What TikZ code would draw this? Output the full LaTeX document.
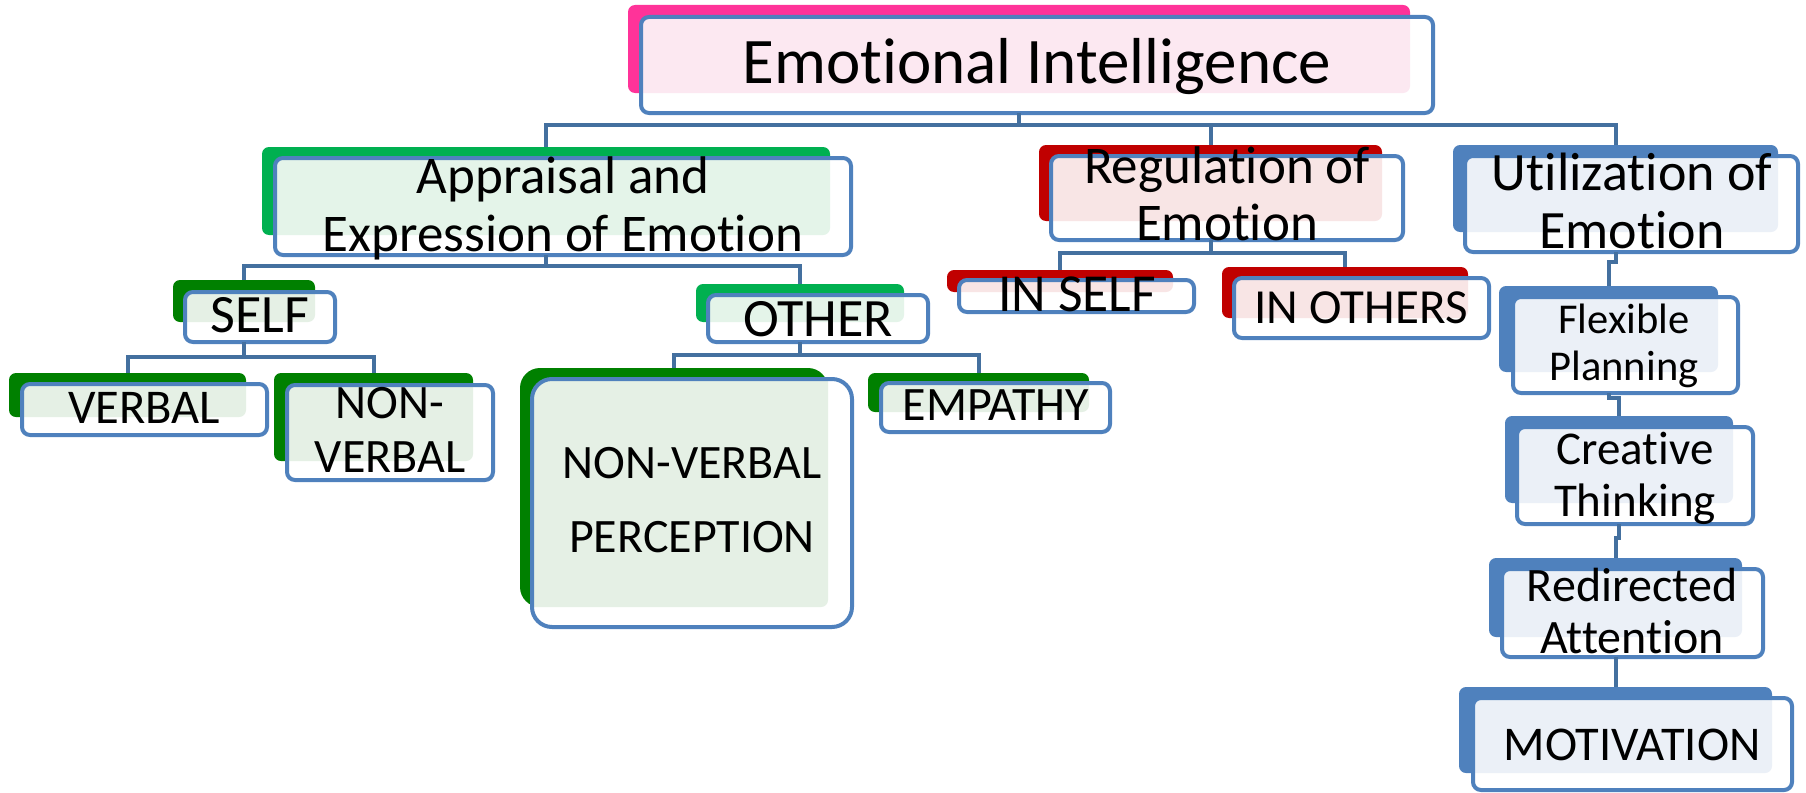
\documentclass[tikz,border=0pt]{standalone}
\usepackage{fontspec}
\setmainfont{Carlito}[Ligatures=NoCommon]
\usetikzlibrary{fit}
\definecolor{pinkD}{HTML}{FF3399}
\definecolor{pinkT}{HTML}{FCE8F1}
\definecolor{grnA}{HTML}{00B050}
\definecolor{grnAT}{HTML}{E4F4E9}
\definecolor{grnB}{HTML}{008000}
\definecolor{grnBT}{HTML}{E5F0E5}
\definecolor{redD}{HTML}{C00000}
\definecolor{redT}{HTML}{F8E5E5}
\definecolor{bluD}{HTML}{4F81BD}
\definecolor{bluT}{HTML}{EBF0F7}
\definecolor{edgeC}{HTML}{4F81BD}
\definecolor{connC}{HTML}{44709F}
\tikzset{
  darkbox/.style={inner sep=0pt, outer sep=0pt, rounded corners=7pt, draw=none},
  bluebox/.style 2 args={inner sep=0pt, outer sep=0pt, rounded corners=8pt, draw=edgeC,
    line width=4pt, fill=white,
    path picture={\fill[#1, rounded corners=7pt] ([shift={(-10,-10)}]path picture bounding box.north west) rectangle (#2.south east);}},
  lbl/.style={inner sep=0pt, align=center, text=black},
  link/.style={draw=connC, line width=4pt},
}
\begin{document}
\begin{tikzpicture}[x=1pt,y=-1pt]
\useasboundingbox (0,0) rectangle (1806,792);
% ---------- dark back boxes ----------
\node[darkbox, fill=pinkD, fit={(628,5) (1410,93)}] (eiD) {};
\node[darkbox, fill=grnA, fit={(262,147) (830,235)}] (apD) {};
\node[darkbox, fill=redD, fit={(1039,145) (1382,221)}] (reD) {};
\node[darkbox, fill=bluD, fit={(1453,145) (1778,232)}] (utD) {};
\node[darkbox, fill=grnB, fit={(173,280) (315,322)}] (seD) {};
\node[darkbox, fill=grnA, fit={(696,284) (904,322)}] (otD) {};
\node[darkbox, fill=grnB, fit={(9,373) (246,417)}] (vbD) {};
\node[darkbox, fill=grnB, fit={(274,373) (473,461)}] (nvD) {};
\node[darkbox, fill=grnB, rounded corners=20pt, fit={(520,368) (828,607)}] (npD) {};
\node[darkbox, fill=grnB, fit={(868,373) (1089,412)}] (emD) {};
\node[darkbox, fill=redD, fit={(947,270) (1173,292)}] (isD) {};
\node[darkbox, fill=redD, fit={(1222,267) (1468,318)}] (ioD) {};
\node[darkbox, fill=bluD, fit={(1499,286) (1718,372)}] (flD) {};
\node[darkbox, fill=bluD, fit={(1505,416) (1733,503)}] (crD) {};
\node[darkbox, fill=bluD, fit={(1489,558) (1742,637)}] (rdD) {};
\node[darkbox, fill=bluD, fit={(1459,687) (1772,773)}] (moD) {};
% ---------- blue outlined boxes ----------
\node[bluebox={pinkT}{eiD}, fit={(641,17) (1433,113)}] (ei) {};
\node[bluebox={grnAT}{apD}, fit={(275,158) (851,255)}] (ap) {};
\node[bluebox={redT}{reD}, fit={(1051,156) (1403,240)}] (re) {};
\node[bluebox={bluT}{utD}, fit={(1465,156) (1798,252)}] (ut) {};
\node[bluebox={grnBT}{seD}, fit={(185,292) (335,342)}] (se) {};
\node[bluebox={grnAT}{otD}, fit={(708,295) (928,342)}] (ot) {};
\node[bluebox={grnBT}{vbD}, fit={(22,384) (267,435)}] (vb) {};
\node[bluebox={grnBT}{nvD}, fit={(287,385) (493,480)}] (nv) {};
\node[bluebox={grnBT}{npD}, rounded corners=20pt, fit={(532,379) (852,627)}] (np) {};
\node[bluebox={grnBT}{emD}, fit={(881,383) (1110,432)}] (em) {};
\node[bluebox={redT}{isD}, fit={(959,280) (1194,312)}] (is) {};
\node[bluebox={redT}{ioD}, fit={(1234,278) (1489,338)}] (io) {};
\node[bluebox={bluT}{flD}, fit={(1513,297) (1738,393)}] (fl) {};
\node[bluebox={bluT}{crD}, fit={(1517,427) (1753,524)}] (cr) {};
\node[bluebox={bluT}{rdD}, fit={(1502,569) (1763,657)}] (rd) {};
\node[bluebox={bluT}{moD}, fit={(1473,698) (1792,790)}] (mo) {};
% ---------- labels ----------
\node[lbl, font=\fontsize{65}{76}\selectfont] (eiL) at (1037,68) {\strut Emotional Intelligence};
\node[lbl, font=\fontsize{53}{58}\selectfont] (apL) at (563,211) {\strut Appraisal and\\\strut Expression of Emotion};
\node[lbl, font=\fontsize{53}{57}\selectfont] (reL) at (1227,201) {\strut Regulation of\\\strut Emotion};
\node[lbl, font=\fontsize{54}{58}\selectfont] (utL) at (1632,208) {\strut Utilization of\\\strut Emotion};
\node[lbl, font=\fontsize{54}{65}\selectfont] (seL) at (260,319) {\strut SELF};
\node[lbl, font=\fontsize{54}{65}\selectfont] (otL) at (818,323) {\strut OTHER};
\node[lbl, font=\fontsize{48.5}{53}\selectfont] (vbL) at (144,413) {\strut VERBAL};
\node[lbl, font=\fontsize{48}{54}\selectfont] (nvL) at (390,435) {\strut NON-\\\strut VERBAL};
\node[lbl, font=\fontsize{48}{74}\selectfont] (npL) at (692,501) {\strut NON-VERBAL\\\strut PERCEPTION};
\node[lbl, font=\fontsize{48}{53}\selectfont] (emL) at (996,410) {\strut EMPATHY};
\node[lbl, font=\fontsize{53.5}{60}\selectfont] (isL) at (1077,299) {\strut IN SELF};
\node[lbl, font=\fontsize{49}{57}\selectfont] (ioL) at (1361,312) {\strut IN OTHERS};
\node[lbl, font=\fontsize{42.5}{47}\selectfont] (flL) at (1624,348) {\strut Flexible\\\strut Planning};
\node[lbl, font=\fontsize{47}{52}\selectfont] (crL) at (1635,480) {\strut Creative\\\strut Thinking};
\node[lbl, font=\fontsize{48}{52}\selectfont] (rdL) at (1632,617) {\strut Redirected\\\strut Attention};
\node[lbl, font=\fontsize{48.5}{53}\selectfont] (moL) at (1632,750) {\strut MOTIVATION};
% ---------- connectors ----------
\draw[link] (eiD.south |- ei.south) -- ++(0,12) coordinate (j1);
\draw[link] (j1) -| (apD.north);
\draw[link] (j1) -| (reD.north);
\draw[link] (j1) -| (utD.north);
\draw[link] (apD.south |- ap.south) -- ++(0,11) coordinate (j2);
\draw[link] (j2) -| (seD.north);
\draw[link] (j2) -| (otD.north);
\draw[link] (seD.south |- se.south) -- ++(0,15) coordinate (j3);
\draw[link] (j3) -| (vbD.north);
\draw[link] (j3) -| (nvD.north);
\draw[link] (otD.south |- ot.south) -- ++(0,13) coordinate (j4);
\draw[link] (j4) -| (npD.north);
\draw[link] (j4) -| (emD.north);
\draw[link] (reD.south |- re.south) -- ++(0,13) coordinate (j5);
\draw[link] (j5) -| (isD.north);
\draw[link] (j5) -| (ioD.north);
\draw[link] (utD.south |- ut.south) -- ++(0,10) -| (flD.north);
\draw[link] (flD.south |- fl.south) -- ++(0,5) -| (crD.north);
\draw[link] (crD.south |- cr.south) -- ++(0,14) -| (rdD.north);
\draw[link] (rdD.south |- rd.south) -- ++(0,15) -| (moD.north);
\end{tikzpicture}
\end{document}
